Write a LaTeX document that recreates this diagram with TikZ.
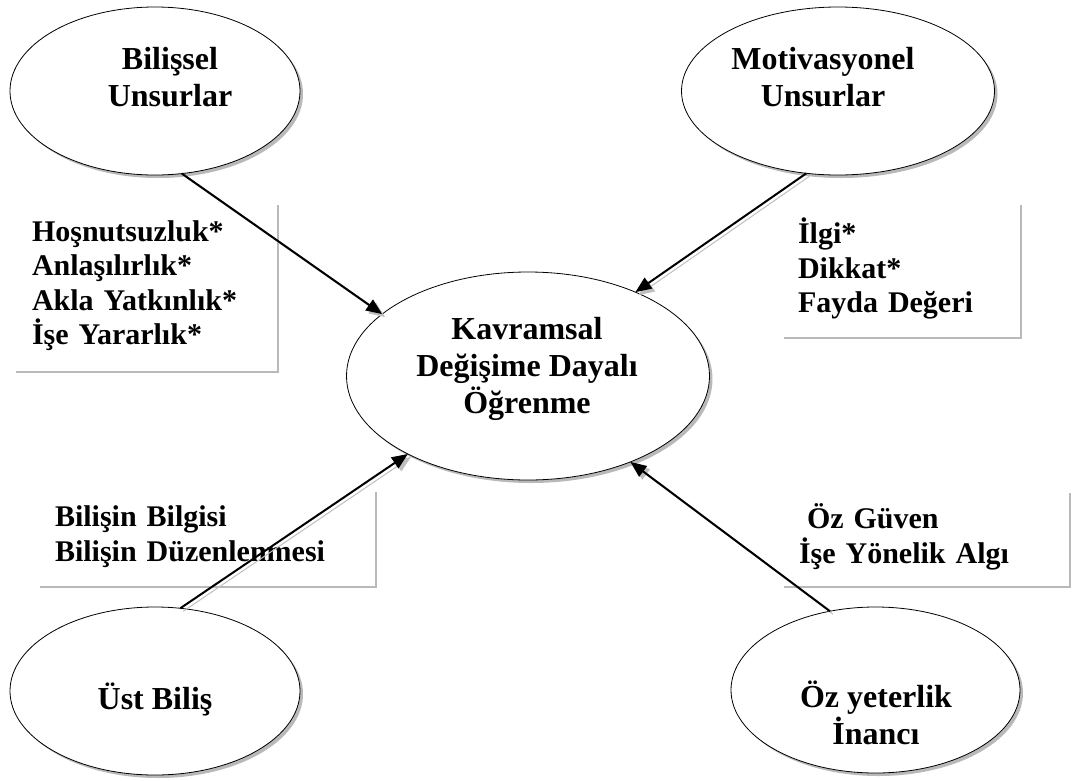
\documentclass[tikz,border=0pt]{standalone}
\usepackage{fontspec}
\setmainfont{Liberation Serif}
\usetikzlibrary{shapes.geometric,arrows.meta,shadows}

\begin{document}
\begin{tikzpicture}[x=1pt,y=-1pt,
  font=\bfseries\fontsize{30pt}{34.5pt}\selectfont,
  oval/.style={ellipse, draw=black, line width=0.8pt, fill=white,
    inner sep=0pt, outer sep=0pt,
    drop shadow={shadow xshift=3pt, shadow yshift=-3pt, fill=gray!55, opacity=1}},
  lbl/.style={align=center, inner sep=0pt, font=\bfseries\fontsize{32pt}{36.8pt}\selectfont},
  txtbox/.style={anchor=north west, align=left, inner ysep=0pt, outer sep=0pt},
  boxshadow/.style={draw=gray!55, line width=2.5pt},
  link/.style={line width=2pt, -{Triangle[length=16pt,width=13pt]}},
  linkshadow/.style={draw=gray!50, line width=1pt,
    -{Triangle[length=16pt,width=13pt]},
    transform canvas={xshift=3pt,yshift=-3pt}}
]
\useasboundingbox (0,0) rectangle (1072,780);

% lists of factors, each with a shadow on its right and lower side
\node[txtbox, inner xsep=19pt, text width=224pt, minimum height=167pt] (hos) at (13,202)
  {Hoşnutsuzluk*\\Anlaşılırlık*\\Akla Yatkınlık*\\İşe Yararlık*};
\node[txtbox, inner xsep=17pt, text width=203pt, minimum height=133pt] (ilg) at (781,202)
  {İlgi*\\Dikkat*\\Fayda Değeri};
\node[txtbox, inner xsep=18pt, text width=300pt, minimum height=95pt] (bbl) at (37,489)
  {Bilişin Bilgisi\\Bilişin Düzenlenmesi};
\node[txtbox, inner xsep=18pt, text width=250pt, minimum height=94pt] (ozg) at (781,490)
  {\hspace*{8pt}Öz Güven\\İşe Yönelik Algı};

\foreach \b in {hos,ilg,bbl,ozg}
  \draw[boxshadow] ([xshift=3pt,yshift=-3pt]\b.north east) |- ([xshift=3pt,yshift=-3pt]\b.south west);

% ellipses
\node[oval, minimum width=290pt, minimum height=168pt] (bil) at (155,91) {};
\node[oval, minimum width=313pt, minimum height=168pt] (mot) at (838,91) {};
\node[oval, minimum width=363pt, minimum height=208pt] (cen) at (528,376) {};
\node[oval, minimum width=290pt, minimum height=168pt] (ust) at (155,691) {};
\node[oval, minimum width=289pt, minimum height=166pt] (oz)  at (875.5,690) {};

\node[lbl] (bil-t) at (170,77) {Bilişsel\\Unsurlar};
\node[lbl] (mot-t) at (823,77) {Motivasyonel\\Unsurlar};
\node[lbl] (cen-t) at (527,369) {Kavramsal\\Değişime Dayalı\\Öğrenme};
\node[lbl] (ust-t) at (155,699) {Üst Biliş};
\node[lbl] (oz-t)  at (876,713) {Öz yeterlik\\İnancı};

% connectors into the central concept
\draw[linkshadow] (bil.-72.2) -- (cen.157.2);
\draw[linkshadow] (mot.249.1) -- (cen.38.2);
\draw[linkshadow] (ust.73.4) -- (cen.213.4);
\draw[linkshadow] (oz.120) -- (cen.320.8);

\draw[link] (bil.-72.2) -- (cen.157.2);
\draw[link] (mot.249.1) -- (cen.38.2);
\draw[link] (ust.73.4) -- (cen.213.4);
\draw[link] (oz.120) -- (cen.320.8);
\end{tikzpicture}
\end{document}
